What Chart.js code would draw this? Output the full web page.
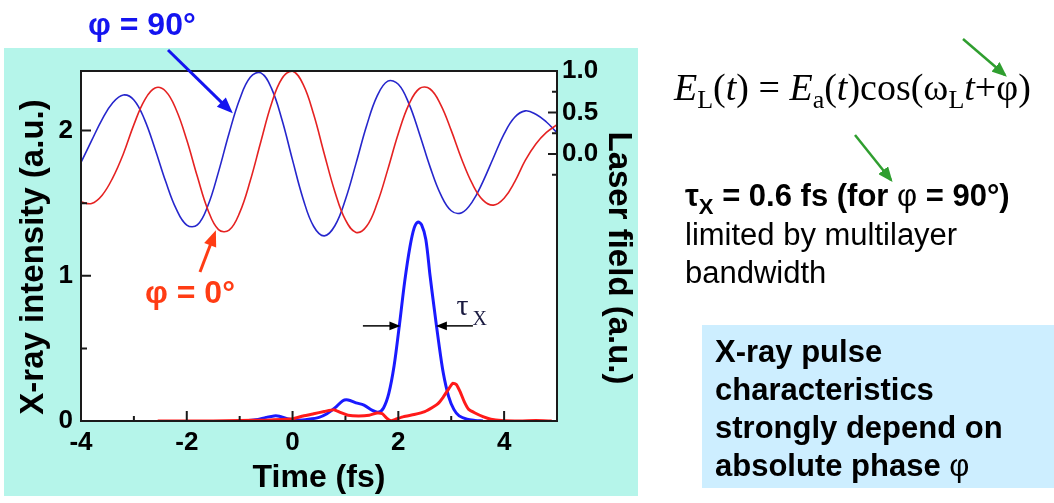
<!DOCTYPE html>
<html lang="en">
<head>
<meta charset="UTF-8">
<title>X-ray pulse and laser phase</title>
<script src="https://cdn.jsdelivr.net/npm/chart.js"></script>
<style>
  body { margin: 0; width: 1054px; height: 503px; background: #fff; position: relative; overflow: hidden; }
  #painel { position: absolute; left: 0; top: 0; width: 640px; height: 503px; }
  svg { position: absolute; left: 0; top: 0; pointer-events: none; }
</style>
</head>
<body>
<div id="painel"><canvas id="grafico" width="640" height="503"></canvas></div>

<svg width="1054" height="503" font-family="'Liberation Sans', Arial, sans-serif">
  <defs>
    <marker id="ponta" markerWidth="6" markerHeight="5" refX="5" refY="2.5" orient="auto" markerUnits="strokeWidth">
      <path d="M0,0 L6,2.5 L0,5 z" fill="#2f9e2f"/>
    </marker>
  </defs>
  <text x="674" y="100" font-family="'Liberation Serif', 'Times New Roman', serif" font-size="38" fill="#000"><tspan font-style="italic">E</tspan><tspan font-size="26" dy="8">L</tspan><tspan dy="-8">(</tspan><tspan font-style="italic">t</tspan><tspan>) = </tspan><tspan font-style="italic">E</tspan><tspan font-size="26" dy="8">a</tspan><tspan dy="-8">(</tspan><tspan font-style="italic">t</tspan><tspan>)cos(ω</tspan><tspan font-size="26" dy="8">L</tspan><tspan dy="-8" font-style="italic">t</tspan><tspan>+φ)</tspan></text>
  <line x1="963" y1="39" x2="1005" y2="75" stroke="#2f9e2f" stroke-width="2.5" marker-end="url(#ponta)"/>
  <line x1="855" y1="135" x2="891" y2="180" stroke="#2f9e2f" stroke-width="2.5" marker-end="url(#ponta)"/>
  <text x="685" y="206" font-size="31" font-weight="bold" fill="#000">τ<tspan font-size="22" dy="8">X</tspan><tspan dy="-8"> = 0.6 fs (for </tspan><tspan font-weight="normal">φ</tspan><tspan> = 90°)</tspan></text>
  <text x="685" y="245" font-size="31" fill="#000">limited by multilayer</text>
  <text x="685" y="283" font-size="31" fill="#000">bandwidth</text>
  <rect x="702" y="325" width="352" height="163" fill="#cdeeff"/>
  <text x="715" y="362" font-size="31" font-weight="bold" fill="#000">X-ray pulse</text>
  <text x="715" y="400" font-size="31" font-weight="bold" fill="#000">characteristics</text>
  <text x="715" y="438" font-size="31" font-weight="bold" fill="#000">strongly depend on</text>
  <text x="715" y="476" font-size="31" font-weight="bold" fill="#000">absolute phase <tspan font-weight="normal">φ</tspan></text>
</svg>

<script>
// laser field, right axis (a.u.)
const tempo = [-4.0, -3.8, -3.6, -3.4, -3.2, -3.0, -2.8, -2.6, -2.4, -2.2, -2.0, -1.8, -1.6, -1.4, -1.2, -1.0,
  -0.8, -0.6, -0.4, -0.2, 0.0, 0.2, 0.4, 0.6, 0.8, 1.0, 1.2, 1.4, 1.6, 1.8, 2.0, 2.2, 2.4, 2.6, 2.8, 3.0,
  3.2, 3.4, 3.6, 3.8, 4.0, 4.2, 4.4, 4.6, 4.8, 5.0]
const campo0 = [-0.578, -0.597, -0.497, -0.288, 0.000, 0.353, 0.647, 0.796, 0.756, 0.533, 0.168, -0.273, -0.675,
  -0.912, -0.920, -0.708, -0.324, 0.147, 0.602, 0.910, 0.997, 0.839, 0.475, 0.000, -0.455, -0.796, -0.946,
  -0.873, -0.595, -0.189, 0.246, 0.597, 0.789, 0.783, 0.595, 0.284, -0.067, -0.362, -0.557, -0.617, -0.534,
  -0.336, -0.078, 0.120, 0.259, 0.352]
const campo90 = [-0.102, 0.160, 0.417, 0.616, 0.711, 0.651, 0.417, 0.060, -0.330, -0.663, -0.858, -0.856, -0.622,
  -0.216, 0.250, 0.659, 0.924, 0.977, 0.793, 0.412, -0.075, -0.542, -0.875, -0.988, -0.866, -0.549, -0.114,
  0.339, 0.700, 0.878, 0.840, 0.606, 0.241, -0.156, -0.488, -0.685, -0.708, -0.575, -0.333, -0.043, 0.242,
  0.442, 0.519, 0.479, 0.385, 0.256]

// x-ray intensity, left axis (a.u.)
const tRaio90 = [-1.0, -0.7, -0.5, -0.35, -0.25, -0.1, 0.1, 0.3, 0.5, 0.65, 0.8, 0.95, 1.05, 1.2, 1.35, 1.5, 1.62,
  1.72, 1.82, 1.92, 2.02, 2.12, 2.22, 2.3, 2.37, 2.44, 2.52, 2.6, 2.68, 2.76, 2.85, 2.95, 3.05, 3.15, 3.3, 3.45, 3.6]
const raio90 = [0, 0.008, 0.025, 0.035, 0.033, 0.015, 0.006, 0.012, 0.025, 0.05, 0.09, 0.14, 0.145, 0.125, 0.11,
  0.075, 0.06, 0.09, 0.19, 0.38, 0.66, 0.96, 1.2, 1.33, 1.37, 1.35, 1.25, 1.0, 0.77, 0.55, 0.33, 0.17, 0.08,
  0.035, 0.012, 0.004, 0]
const tRaio0 = [-2.55, -1.5, -1.0, -0.5, -0.2, 0.0, 0.2, 0.4, 0.6, 0.78, 0.9, 1.05, 1.25, 1.45, 1.6, 1.7, 1.78,
  1.86, 1.95, 2.1, 2.3, 2.5, 2.65, 2.75, 2.85, 2.95, 3.03, 3.1, 3.17, 3.25, 3.33, 3.45, 3.6, 3.75, 3.95, 4.3, 4.6, 4.9]
const raio0 = [0, 0, 0.003, 0.006, 0.01, 0.015, 0.035, 0.05, 0.065, 0.078, 0.06, 0.04, 0.035, 0.04, 0.055, 0.05,
  0.02, 0.002, 0.012, 0.03, 0.045, 0.065, 0.095, 0.12, 0.165, 0.22, 0.26, 0.25, 0.2, 0.13, 0.08, 0.055, 0.03,
  0.012, 0.003, 0, 0.003, 0]

// ticks
const ticksX = [-4, -3, -2, -1, 0, 1, 2, 3, 4, 5]
const rotulosX = [-4, -2, 0, 2, 4]
const ticksEsq = [0, 0.5, 1, 1.5, 2]
const rotulosEsq = [0, 1, 2]
const ticksDir = [-0.25, 0, 0.25, 0.5, 0.75, 1.0]
const rotulosDir = [0, 0.5, 1.0]

const pares = (xs, ys) => xs.map((x, i) => ({x: x, y: ys[i]}))

Chart.defaults.font.family = "'Liberation Sans', Arial, sans-serif"
Chart.defaults.color = '#000'

function seta(c, x0, y0, x1, y1, cor, larg, cab) {
  const a = Math.atan2(y1 - y0, x1 - x0)
  const cs = Math.cos(a), sn = Math.sin(a)
  c.save()
  c.strokeStyle = cor
  c.fillStyle = cor
  c.lineWidth = larg
  c.beginPath()
  c.moveTo(x0, y0)
  c.lineTo(x1 - cs * cab * 0.8, y1 - sn * cab * 0.8)
  c.stroke()
  c.beginPath()
  c.moveTo(x1, y1)
  c.lineTo(x1 - cab * cs + cab * 0.4 * sn, y1 - cab * sn - cab * 0.4 * cs)
  c.lineTo(x1 - cab * cs - cab * 0.4 * sn, y1 - cab * sn + cab * 0.4 * cs)
  c.closePath()
  c.fill()
  c.restore()
}

// rotated axis titles, a bit below the middle like in the slide
function tituloVertical(c, texto, x, y, ang) {
  c.save()
  c.translate(x, y)
  c.rotate(ang)
  c.font = 'bold 33px "Liberation Sans", Arial, sans-serif'
  c.fillStyle = '#000'
  c.textAlign = 'center'
  c.textBaseline = 'middle'
  c.fillText(texto, 0, 0)
  c.restore()
}

const moldura = {
  id: 'moldura',
  beforeDraw(chart) {
    const c = chart.ctx, a = chart.chartArea
    c.save()
    c.fillStyle = '#b5f5ea'
    c.fillRect(4, 48, 634, 448)
    c.fillStyle = '#fff'
    c.fillRect(a.left, a.top, a.right - a.left, a.bottom - a.top)
    c.restore()
  },
  afterDraw(chart) {
    const c = chart.ctx, a = chart.chartArea
    const sx = chart.scales.x, sy = chart.scales.y, sy2 = chart.scales.y2
    c.save()
    c.strokeStyle = '#1a1a1a'
    c.lineWidth = 2
    c.beginPath()
    ticksX.forEach(v => {
      const px = sx.getPixelForValue(v), len = rotulosX.includes(v) ? 10 : 5
      c.moveTo(px, a.bottom); c.lineTo(px, a.bottom - len)
    })
    ticksEsq.forEach(v => {
      const py = sy.getPixelForValue(v), len = rotulosEsq.includes(v) ? 10 : 6
      c.moveTo(a.left, py); c.lineTo(a.left + len, py)
    })
    ticksDir.forEach(v => {
      const py = sy2.getPixelForValue(v), len = rotulosDir.includes(v) ? 9 : 5
      c.moveTo(a.right, py); c.lineTo(a.right - len, py)
    })
    c.stroke()
    c.strokeRect(a.left, a.top, a.right - a.left, a.bottom - a.top)

    tituloVertical(c, 'X-ray intensity (a.u.)', 34, 257, -Math.PI / 2)
    tituloVertical(c, 'Laser field (a.u.)', 618, 258, Math.PI / 2)

    // phase labels and arrows
    c.font = 'bold 32px "Liberation Sans", Arial, sans-serif'
    c.fillStyle = '#1414f0'
    c.fillText('φ = 90°', 88, 35)
    seta(c, 168, 50, sx.getPixelForValue(-1.13), sy2.getPixelForValue(0.49), '#1414f0', 3, 16)
    c.fillStyle = '#ff3c14'
    c.fillText('φ = 0°', 145, 303)
    seta(c, 200, 272, sx.getPixelForValue(-1.45), sy2.getPixelForValue(-0.92), '#ff3c14', 3, 16)

    // pulse width
    const yMeia = sy.getPixelForValue(0.655)
    seta(c, sx.getPixelForValue(1.33), yMeia, sx.getPixelForValue(2.04), yMeia, '#000', 1.5, 11)
    seta(c, sx.getPixelForValue(3.41), yMeia, sx.getPixelForValue(2.71), yMeia, '#000', 1.5, 11)
    c.fillStyle = '#1a1a40'
    c.font = '30px "Liberation Serif", "Times New Roman", serif'
    c.fillText('τ', sx.getPixelForValue(3.1), sy.getPixelForValue(0.73))
    c.font = '20px "Liberation Serif", "Times New Roman", serif'
    c.fillText('X', sx.getPixelForValue(3.4), sy.getPixelForValue(0.66))
    c.restore()
  }
}

const ctx = document.getElementById('grafico')
const grafico = new Chart(ctx, {
  type: 'line',
  data: {
    datasets: [
      { label: 'X-ray 0°', data: pares(tRaio0, raio0), yAxisID: 'y', borderColor: '#ff1a1a', borderWidth: 3,
        pointRadius: 0, tension: 0.15, order: 1 },
      { label: 'X-ray 90°', data: pares(tRaio90, raio90), yAxisID: 'y', borderColor: '#1a1aff', borderWidth: 3,
        pointRadius: 0, tension: 0.3, order: 2 },
      { label: 'Field 0°', data: pares(tempo, campo0), yAxisID: 'y2', borderColor: '#e52222', borderWidth: 1.6,
        pointRadius: 0, tension: 0.4, order: 3 },
      { label: 'Field 90°', data: pares(tempo, campo90), yAxisID: 'y2', borderColor: '#2626cc', borderWidth: 1.6,
        pointRadius: 0, tension: 0.4, order: 4 }
    ]
  },
  options: {
    responsive: false,
    animation: false,
    layout: { padding: { top: 71, left: 0, right: 0, bottom: 0 } },
    plugins: { legend: { display: false }, tooltip: { enabled: false } },
    scales: {
      x: {
        type: 'linear', min: -4, max: 5,
        afterBuildTicks: s => { s.ticks = ticksX.map(v => ({ value: v })) },
        afterFit: s => { s.height = 82 },
        grid: { display: false, drawTicks: false },
        border: { display: false },
        ticks: { font: { size: 26, weight: 'bold' }, padding: 6, maxRotation: 0, autoSkip: false,
          callback: v => rotulosX.includes(v) ? String(v) : '' },
        title: { display: true, text: 'Time (fs)', font: { size: 32, weight: 'bold' }, padding: { top: 0, bottom: 6 } }
      },
      y: {
        type: 'linear', position: 'left', min: 0, max: 2.41,
        afterBuildTicks: s => { s.ticks = ticksEsq.map(v => ({ value: v })) },
        afterFit: s => { s.width = 81 },
        grid: { display: false, drawTicks: false },
        border: { display: false },
        ticks: { font: { size: 26, weight: 'bold' }, padding: 8,
          callback: v => rotulosEsq.includes(v) ? String(v) : '' }
      },
      y2: {
        type: 'linear', position: 'right', min: -3.22, max: 1.0,
        afterBuildTicks: s => { s.ticks = ticksDir.map(v => ({ value: v })) },
        afterFit: s => { s.width = 83 },
        grid: { display: false, drawTicks: false },
        border: { display: false },
        ticks: { font: { size: 26, weight: 'bold' }, padding: 5,
          callback: v => rotulosDir.includes(v) ? v.toFixed(1) : '' }
      }
    }
  },
  plugins: [moldura]
})
</script>
</body>
</html>
